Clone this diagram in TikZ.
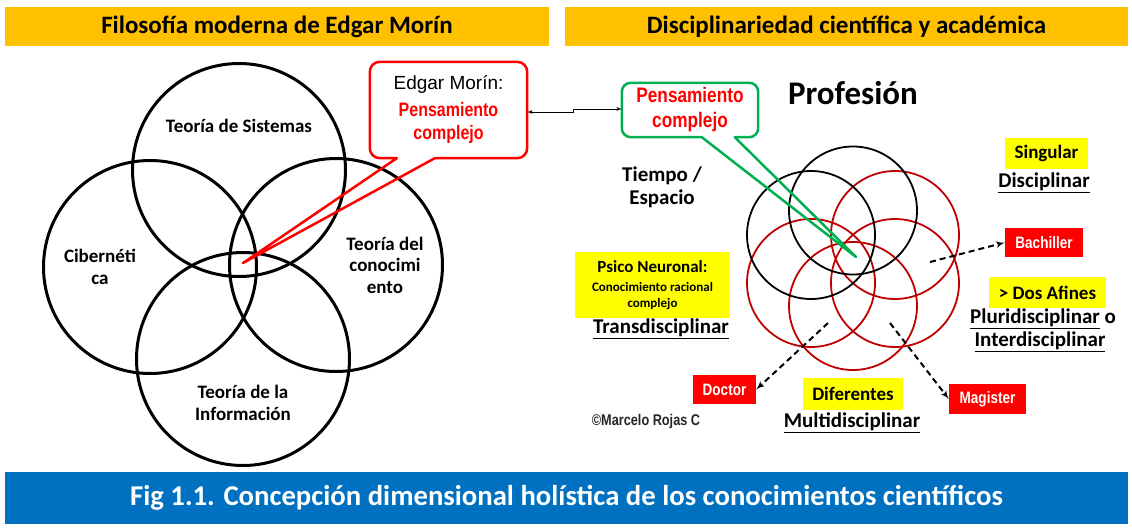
\documentclass[tikz,border=0pt]{standalone}
\usepackage{fontspec}
\setmainfont{Carlito}
\newfontfamily\arialfont{Liberation Sans}
\newfontfamily\narrowfont[FakeStretch=0.82]{Liberation Sans}
\usetikzlibrary{positioning, arrows}

\definecolor{headorange}{RGB}{255,192,0}
\definecolor{footblue}{RGB}{0,112,192}
\definecolor{hiyellow}{RGB}{255,255,0}
\definecolor{callgreen}{RGB}{0,176,80}
\definecolor{ringred}{RGB}{192,0,0}

\newcommand{\fsz}[1]{\fontsize{#1}{#1}\selectfont}

\begin{document}
\begin{tikzpicture}[x=1pt, y=-1pt,
    heading/.style={fill=headorange, minimum height=39pt, inner sep=0pt, font=\fsz{25}\bfseries},
    footer/.style={fill=footblue, text=white, minimum height=52pt, inner sep=0pt, font=\fsz{28.7}\bfseries},
    venn/.style={circle, draw, line width=3pt, minimum size=213pt, inner sep=0pt},
    vennlabel/.style={align=center, font=\fontsize{19}{21.5}\selectfont\bfseries},
    ring/.style={circle, draw, line width=1.8pt, minimum size=128pt, inner sep=0pt},
    redring/.style={ring, draw=ringred},
    hilite/.style={fill=hiyellow, inner sep=0pt, font=\fsz{19}\bfseries},
    redtag/.style={fill=red, text=white, inner sep=0pt, font=\narrowfont\fsz{16.5}\bfseries},
    field/.style={font=\fsz{21}\bfseries},
    bubble/.style={inner sep=0pt, align=center},
    line/.style={draw, -latex'},
    tipline/.style={line width=2pt, dash pattern=on 6pt off 4pt, -latex'}
]
\useasboundingbox (0,0) rectangle (1132,528);

% Headings
\node[heading, minimum width=544pt] (lefthead) at (277,26.5) {Filosofía moderna de Edgar Morín};
\node[heading, minimum width=563pt] (righthead) at (846.5,26.5) {Disciplinariedad científica y académica};
\node[footer, minimum width=1123pt] (foot) at (566.5,498) {Fig 1.1. Concepción dimensional holística de los conocimientos científicos};

% Venn of Morin
\node[venn] (sistemas) at (239,170) {};
\node[venn] (ciber) at (150,267) {};
\node[venn] (conoc) at (336,265) {};
\node[venn] (info) at (243,359) {};

\node[vennlabel] (sistemaslbl) at (239,126) {Teoría de Sistemas};
\node[vennlabel] (ciberlbl) at (100,267) {Cibernéti\\ca};
\node[vennlabel] (conoclbl) at (385,265) {Teoría del\\conocimi\\ento};
\node[vennlabel] (infolbl) at (243,403) {Teoría de la\\Información};

% Edgar Morin bubble
\node[bubble, minimum width=157pt, minimum height=96pt, text=red,
      font=\narrowfont\bfseries\fontsize{19.5}{23}\selectfont] (edgar) at (448.5,110)
    {\textcolor{black}{\arialfont\mdseries\fsz{19}Edgar Morín:}\\[4pt]Pensamiento\\complejo};
\coordinate (edgartip) at (243,263);
\draw[red, line width=2.5pt, line join=round]
    ([xshift=27pt]edgar.south west) -- (edgartip) -- ([xshift=65pt]edgar.south west)
    [rounded corners=10pt] -- (edgar.south east) -- (edgar.north east)
    -- (edgar.north west) -- (edgar.south west) [sharp corners] -- cycle;

% Profesion rings
\node[redring] (ringC) at (895,235) {};
\node[redring] (ringD) at (811,283) {};
\node[redring] (ringE) at (895,283) {};
\node[redring] (ringF) at (853,306) {};
\node[ring] (ringA) at (811,235) {};
\node[ring] (ringB) at (853,210.5) {};

% Pensamiento bubble
\node[bubble, minimum width=136pt, minimum height=54pt, text=red,
      font=\narrowfont\bfseries\fontsize{21}{25}\selectfont] (pensa) at (690,110) {Pensamiento\\complejo};
\coordinate (pensatip) at (856,257);
\draw[callgreen, line width=2.5pt, line join=round]
    ([xshift=80pt]pensa.south west) -- (pensatip) -- ([xshift=113pt]pensa.south west)
    [rounded corners=9pt] -- (pensa.south east) -- (pensa.north east)
    -- (pensa.north west) -- (pensa.south west) [sharp corners] -- cycle;

\draw[latex'-latex', line width=0.8pt] ([yshift=-2pt]edgar.east) -- ++(46,0) |- ([yshift=1pt]pensa.west);

% Texts
\node[font=\fsz{33}\bfseries] (profesion) at (853,93) {Profesión};
\node[align=center, font=\fontsize{21}{23}\selectfont\bfseries] (tiempo) at (662,187) {Tiempo /\\Espacio};

\node[hilite, minimum width=155pt, minimum height=66pt, align=center,
      font=\fontsize{13}{16}\selectfont\bfseries] (psico) at (652.5,285)
    {{\fsz{17}Psico Neuronal:}\\[3pt]Conocimiento racional\\complejo};
\node[field] (trans) at (661,329) {\underline{Transdisciplinar}};

\node[hilite, minimum width=83pt, minimum height=31pt] (singular) at (1046.5,153.5) {Singular};
\node[field] (disc) at (1044,183) {\underline{Disciplinar}};

\node[hilite, minimum width=117pt, minimum height=31pt] (afines) at (1047.5,292.5) {> Dos Afines};
\node[field] (pluri) at (1043,319) {\underline{Pluridisciplinar} o};
\node[field] (inter) at (1040,342) {\underline{Interdisciplinar}};

\node[hilite, minimum width=100pt, minimum height=32pt] (diferentes) at (853,394) {Diferentes};
\node[field] (multi) at (852,423) {\underline{Multidisciplinar}};

\node[redtag, minimum width=78pt, minimum height=29pt] (bachiller) at (1044,242.5) {Bachiller};
\node[redtag, minimum width=63pt, minimum height=29pt] (doctor) at (724.5,389.5) {Doctor};
\node[redtag, minimum width=77pt, minimum height=30pt] (magister) at (987.5,399) {Magister};

\node[font=\narrowfont\bfseries\fsz{15.5}, text=black!85] (autor) at (646,421) {©Marcelo Rojas C};

% Dashed arrows
\coordinate (bachfrom) at (930,262);
\coordinate (docfrom) at (828,323);
\coordinate (magfrom) at (890,323);
\draw[tipline] (bachfrom) -- (bachiller.west);
\draw[tipline] (docfrom) -- (doctor.east);
\draw[tipline] (magfrom) -- (magister.west);

\end{tikzpicture}
\end{document}
